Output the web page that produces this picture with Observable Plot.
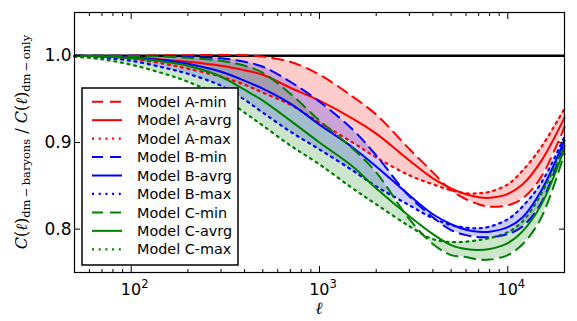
<!DOCTYPE html>
<html><head><meta charset="utf-8">
<script src="https://cdn.jsdelivr.net/npm/d3@7"></script>
<script src="https://cdn.jsdelivr.net/npm/@observablehq/plot@0.6"></script>
<style>
html,body{margin:0;padding:0;background:#fff;}
#chart{width:577px;height:321px;}
</style></head><body><div id="chart"></div>
<script>
// multipole ell
const ell = [50,70,100,150,200,300,400,500,700,1000,1500,2000,3000,4000,5000,6000,7000,8000,10000,12000,15000,20000];
// Model A
const aMin = [1.000,1.000,1.0002,1.0006,1.0008,1.0009,1.0008,0.9991,0.9931,0.9782,0.9529,0.9322,0.8925,0.8655,0.8448,0.8345,0.8287,0.8259,0.8276,0.8356,0.8598,0.9180];
const aAvg = [1.000,0.9994,0.9983,0.9954,0.9931,0.9885,0.9833,0.9782,0.9632,0.9483,0.9276,0.9103,0.8793,0.8586,0.8471,0.8402,0.8368,0.8362,0.8408,0.8517,0.8782,0.9287];
const aMax = [1.000,0.9989,0.9966,0.9908,0.9851,0.9759,0.9667,0.9575,0.9437,0.9230,0.9000,0.8828,0.8621,0.8517,0.8448,0.8414,0.8414,0.8431,0.8517,0.8678,0.8943,0.9391];
// Model B
const bMin = [1.000,1.000,1.000,0.9997,0.9989,0.9971,0.9931,0.9874,0.9701,0.9471,0.9149,0.8851,0.8379,0.8138,0.7989,0.7931,0.7908,0.7908,0.7943,0.8034,0.8299,0.8989];
const bAvg = [1.000,0.9994,0.9977,0.9948,0.9908,0.9816,0.9713,0.9621,0.9448,0.9207,0.8943,0.8724,0.8391,0.8172,0.8057,0.7994,0.7971,0.7971,0.8023,0.8138,0.8437,0.9023];
const bMax = [0.9995,0.9977,0.9943,0.9862,0.9793,0.9655,0.9494,0.9345,0.9126,0.8920,0.8678,0.8494,0.8276,0.8126,0.8046,0.8017,0.8011,0.8029,0.8115,0.8264,0.8529,0.9069];
// Model C
const cMin = [1.000,1.000,0.9998,0.9991,0.9977,0.9943,0.9885,0.9805,0.9563,0.9253,0.8931,0.8655,0.8115,0.7828,0.7701,0.7678,0.7649,0.7649,0.7701,0.7828,0.8126,0.8874];
const cAvg = [1.000,0.9992,0.9971,0.9931,0.9885,0.9759,0.9609,0.9483,0.9253,0.9000,0.8724,0.8471,0.8149,0.7943,0.7816,0.7770,0.7759,0.7770,0.7839,0.7977,0.8276,0.8931];
const cMax = [0.999,0.9960,0.9897,0.9793,0.9701,0.9529,0.9345,0.9195,0.8966,0.8747,0.8471,0.8287,0.8034,0.7885,0.7851,0.7856,0.7874,0.7897,0.7966,0.8092,0.8402,0.8966];

const models = ["A","B","C"];
const modelColors = ["#ff0000","#0000ff","#008000"];
const xTicks = [100,1000,10000];
const xTickBase = ["10","10","10"];
const xTickExp = ["2","3","4"];
const xMinorTicks = [50,60,70,80,90,200,300,400,500,600,700,800,900,2000,3000,4000,5000,6000,7000,8000,9000,20000];
const yTicks = [0.8,0.9,1.0];
const yTickLabels = ["0.8","0.9","1.0"];
const legendLabels = ["Model A-min","Model A-avrg","Model A-max","Model B-min","Model B-avrg","Model B-max","Model C-min","Model C-avrg","Model C-max"];

const series = [[aMin,aAvg,aMax],[bMin,bAvg,bMax],[cMin,cAvg,cMax]];
const tables = series.map(([mn,av,mx]) => ell.map((l,i) => ({l, min: mn[i], avg: av[i], max: mx[i]})));

const DASH = "11,7", DOT = "2,4.7";
const curve = "catmull-rom";

const areas = tables.map((t,k) => Plot.areaY(t, {x: "l", y1: "min", y2: "max", fill: modelColors[k], fillOpacity: 0.2, curve}));
const lines = [];
tables.forEach((t,k) => {
  lines.push(Plot.line(t, {x: "l", y: "min", stroke: modelColors[k], strokeWidth: 2, strokeDasharray: DASH, curve}));
  lines.push(Plot.line(t, {x: "l", y: "avg", stroke: modelColors[k], strokeWidth: 2, curve}));
  lines.push(Plot.line(t, {x: "l", y: "max", stroke: modelColors[k], strokeWidth: 2.2, strokeDasharray: DOT, curve}));
});

const yLabelMap = new Map(yTicks.map((v,i) => [v, yTickLabels[i]]));

const chart = Plot.plot({
  width: 577, height: 321,
  marginLeft: 74, marginRight: 13, marginTop: 12, marginBottom: 49,
  x: {type: "log", domain: [50, 20000]},
  y: {domain: [0.75, 1.05]},
  style: {fontFamily: "DejaVu Sans", background: "white", color: "black"},
  marks: [
    ...areas,
    Plot.ruleY([1], {stroke: "black", strokeWidth: 2.5}),
    ...lines,
    Plot.frame({stroke: "black", strokeWidth: 1.2}),
    Plot.axisX(xMinorTicks, {anchor: "bottom", tickSize: -3, tickFormat: () => "", label: null}),
    Plot.axisX(xMinorTicks, {anchor: "top", tickSize: -3, tickFormat: () => "", label: null}),
    Plot.axisX(xTicks, {anchor: "bottom", tickSize: -6, tickFormat: () => "", label: null}),
    Plot.axisX(xTicks, {anchor: "top", tickSize: -6, tickFormat: () => "", label: null}),
    Plot.axisY(yTicks, {anchor: "left", tickSize: -6, tickFormat: () => "", label: null}),
    Plot.axisY(yTicks, {anchor: "right", tickSize: -6, tickFormat: () => "", label: null}),
    Plot.axisY(yTicks, {anchor: "left", tickSize: 0, tickPadding: 3, fontSize: 17, tickFormat: d => yLabelMap.get(d), label: null})
  ]
});
document.getElementById("chart").appendChild(chart);

const svg = d3.select(chart);
const xs = chart.scale("x");
const ys = chart.scale("y");
const plotBottom = ys.apply(0.75);

// x tick labels with superscripts, positioned by Plot's x scale
const xl = svg.append("g").attr("aria-label", "x tick labels");
xTicks.forEach((v, i) => {
  const t = xl.append("text").attr("x", xs.apply(v) + 4).attr("y", plotBottom + 23)
    .attr("text-anchor", "middle").attr("font-family", "'DejaVu Sans'").attr("font-size", "16px").attr("fill", "black");
  t.append("tspan").text(xTickBase[i]);
  t.append("tspan").attr("dy", "-7").attr("font-size", "11.5px").text(xTickExp[i]);
});

// y axis label
const yl = svg.append("text")
  .attr("transform", `translate(27,${ys.apply(0.9)}) rotate(-90)`)
  .attr("text-anchor", "middle")
  .attr("font-family", "'DejaVu Serif', serif")
  .attr("font-size", "16px")
  .attr("fill", "black");
function mathC(sel, sub) {
  sel.append("tspan").attr("font-style", "italic").text("C");
  sel.append("tspan").text("(");
  sel.append("tspan").attr("font-style", "italic").text("ℓ");
  sel.append("tspan").text(")");
  sel.append("tspan").attr("font-size", "11.5px").attr("dy", "0.3em").text(sub);
}
mathC(yl, "dm\u2009\u2212\u2009baryons");
yl.append("tspan").attr("dy", "-0.22em").text(" / ");
mathC(yl, "dm\u2009\u2212\u2009only");

// x axis label
svg.append("text").attr("x", xs.apply(1000)).attr("y", 314).attr("text-anchor", "middle")
  .attr("font-family", "'DejaVu Serif', serif").attr("font-style", "italic").attr("font-size", "17px")
  .attr("fill", "black").text("ℓ");

// legend
const lg = svg.append("g").attr("aria-label", "legend");
lg.append("rect").attr("x", 82).attr("y", 88).attr("width", 156).attr("height", 177)
  .attr("fill", "white").attr("stroke", "black").attr("stroke-width", 1.5);
const styles = [DASH, null, DOT];
legendLabels.forEach((lab, i) => {
  const y = 101.7 + i * 18.45;
  const k = Math.floor(i / 3);
  const ln = lg.append("line").attr("x1", 92).attr("x2", 122).attr("y1", y).attr("y2", y)
    .attr("stroke", modelColors[k]).attr("stroke-width", i % 3 === 2 ? 2.2 : 2);
  if (styles[i % 3]) ln.attr("stroke-dasharray", styles[i % 3]);
  lg.append("text").attr("x", 137).attr("y", y).attr("dy", "0.36em").attr("text-anchor", "start")
    .attr("font-family", "'DejaVu Sans'").attr("font-size", "14.4px").attr("fill", "black").text(lab);
});
</script>
</body></html>
